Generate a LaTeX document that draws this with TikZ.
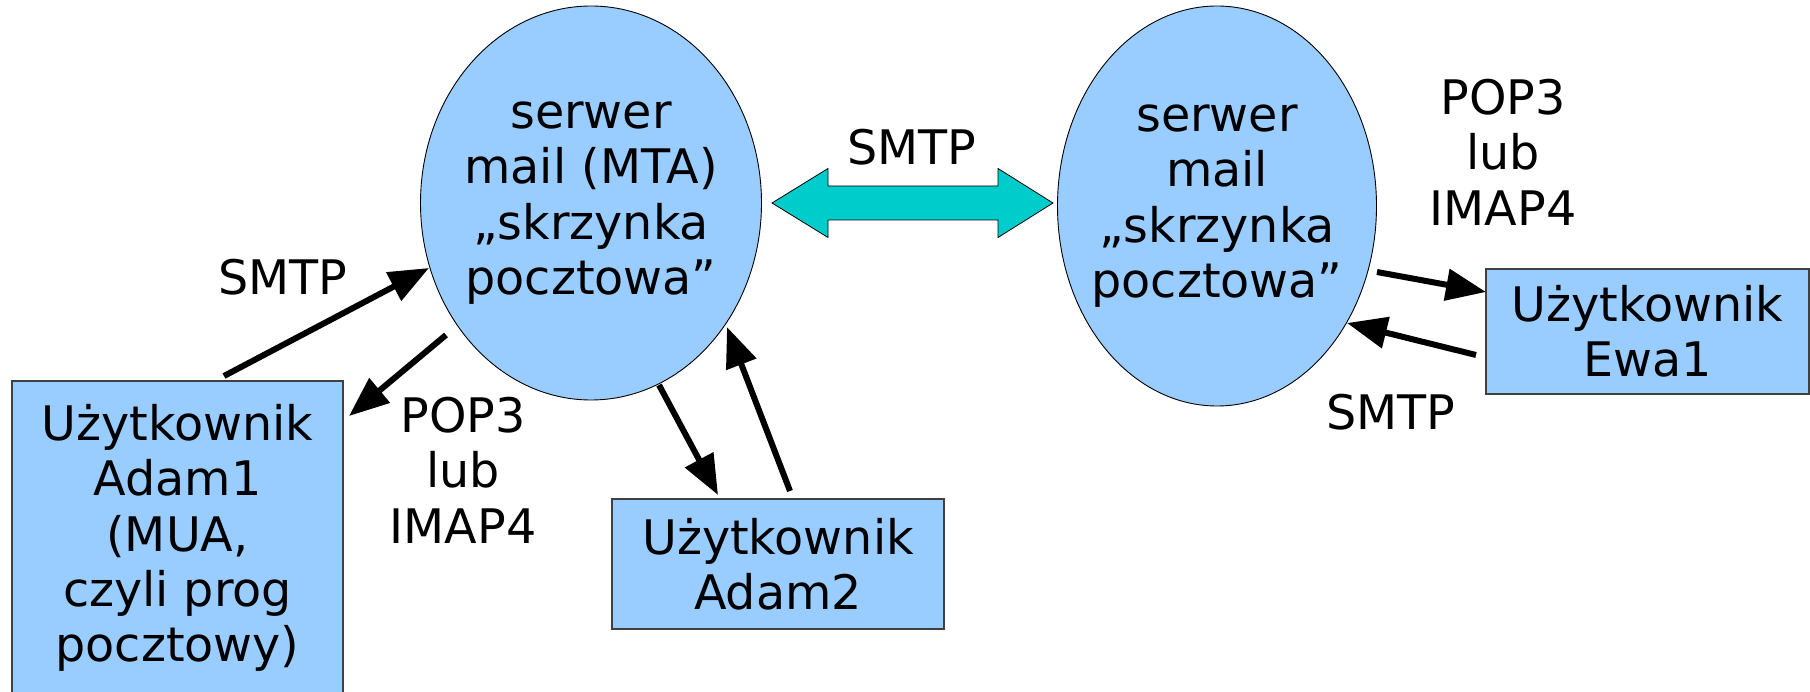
\documentclass[tikz,border=0pt]{standalone}
\usepackage{fontspec}
\setmainfont{DejaVu Sans}
\usetikzlibrary{shapes.geometric,arrows.meta}
\definecolor{boxblue}{HTML}{99CCFF}
\definecolor{cyanarrow}{HTML}{00CCCC}
\begin{document}
\begin{tikzpicture}[x=1pt,y=-1pt,
  every node/.style={font=\fontsize{47.6}{55.4}\selectfont, align=center, inner sep=0pt},
  server/.style={ellipse, draw=black, line width=0.9pt, fill=boxblue},
  userbox/.style={rectangle, draw=black!75, line width=1.2pt, fill=boxblue},
  flow/.style={line width=6pt, -{Triangle[length=40pt,width=31pt]}},
  lbl/.style={}
]
\useasboundingbox (0,0) rectangle (1810,692);
% servers
\node[server, minimum width=341pt, minimum height=394pt] (s1) at (591,203) {};
\node[lbl] (s1t) at (s1.center) {serwer\\mail (MTA)\\„skrzynka\\pocztowa”};
\node[server, minimum width=319pt, minimum height=400pt] (s2) at (1217,206) {};
\node[lbl] (s2t) at (s2.center) {serwer\\mail\\„skrzynka\\pocztowa”};
% users
\node[userbox, minimum width=331pt, minimum height=314pt] (u1) at (177.5,538) {Użytkownik\\Adam1\\(MUA,\\czyli prog\\pocztowy)};
\node[userbox, minimum width=332pt, minimum height=130pt] (u2) at (778,564) {Użytkownik\\Adam2};
\node[userbox, minimum width=323pt, minimum height=125pt] (u3) at (1647.5,331.5) {Użytkownik\\Ewa1};
% double arrow between servers
\coordinate (dl) at (772,203);
\coordinate (dr) at (1053,203);
\fill[cyanarrow, draw=black, line width=0.8pt]
  (dl) -- (828,168.5) -- (828,186) -- (998,186) -- (998,168.5) -- (dr)
  -- (998,237.5) -- (998,220) -- (828,220) -- (828,237.5) -- cycle;
% connector end points
\coordinate (a1s) at (224,376);  \coordinate (a1e) at (429,268);
\coordinate (a2s) at (446,335);  \coordinate (a2e) at (349,416);
\coordinate (a3s) at (659,385);  \coordinate (a3e) at (718,495);
\coordinate (a4s) at (790,491);  \coordinate (a4e) at (727,327);
\coordinate (a5s) at (1377,272); \coordinate (a5e) at (1486,292);
\coordinate (a6s) at (1476,355); \coordinate (a6e) at (1347,323);
\draw[flow] (a1s) -- (a1e);
\draw[flow] (a2s) -- (a2e);
\draw[flow] (a3s) -- (a3e);
\draw[flow] (a4s) -- (a4e);
\draw[flow] (a5s) -- (a5e);
\draw[flow] (a6s) -- (a6e);
% labels
\node[lbl] (l1) at (912,147) {SMTP};
\node[lbl] (l2) at (1503,152) {POP3\\lub\\IMAP4};
\node[lbl] (l3) at (283,277) {SMTP};
\node[lbl] (l4) at (463,470) {POP3\\lub\\IMAP4};
\node[lbl] (l5) at (1391,412) {SMTP};
\end{tikzpicture}
\end{document}
